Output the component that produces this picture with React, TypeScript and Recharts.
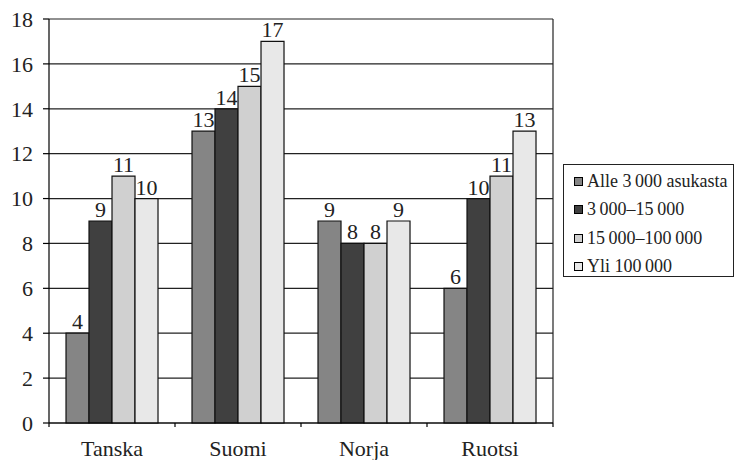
import React from "react";
import { BarChart, Bar, XAxis, YAxis, CartesianGrid, LabelList } from "recharts";

// Countries on the category axis
const countries = ["Tanska", "Suomi", "Norja", "Ruotsi"];

// Size classes of municipalities (one series each)
const seriesNames = ["Alle 3\u2009000 asukasta", "3\u2009000\u201315\u2009000", "15\u2009000\u2013100\u2009000", "Yli 100\u2009000"];
const under3000 = [4, 13, 9, 6];
const from3000to15000 = [9, 14, 8, 10];
const from15000to100000 = [11, 15, 8, 11];
const over100000 = [10, 17, 9, 13];

const yTicks = [0, 2, 4, 6, 8, 10, 12, 14, 16, 18];

const seriesKeys = ["s1", "s2", "s3", "s4"];
const seriesColors = ["#858585", "#404040", "#d0d0d0", "#e8e8e8"];

const data = countries.map((name, i) => ({
  name,
  s1: under3000[i],
  s2: from3000to15000[i],
  s3: from15000to100000[i],
  s4: over100000[i],
}));

const FONT = "'Liberation Serif', serif";
const CHART_W = 734;
const CHART_H = 460;
const MARGIN = { top: 19, right: 181, bottom: 0, left: 0 };
const Y_AXIS_W = 49;
const PLOT_W = CHART_W - MARGIN.left - MARGIN.right - Y_AXIS_W;
const BAND = PLOT_W / countries.length;

// Category label at the band centre, tick marks on the band edges
const CategoryTick = (props: any) => {
  const { x, y, payload, index } = props;
  const half = BAND / 2;
  return (
    <g>
      <line x1={x - half} x2={x - half} y1={y - 8} y2={y - 4} stroke="#000" strokeWidth={1.2} />
      {index === countries.length - 1 && (
        <line x1={x + half} x2={x + half} y1={y - 8} y2={y - 4} stroke="#000" strokeWidth={1.2} />
      )}
      <text x={x} y={y + 25} textAnchor="middle" fontFamily={FONT} fontSize={22} fill="#222">
        {payload.value}
      </text>
    </g>
  );
};

const LegendBox = () => (
  <div
    style={{
      position: "absolute",
      left: 563,
      top: 164,
      border: "1.5px solid #222",
      width: 171,
      height: 113,
      boxSizing: "border-box",
      padding: "2px 0 0 10px",
      fontFamily: FONT,
      fontSize: 18,
      color: "#222",
      background: "#fff",
    }}
  >
    {seriesNames.map((n, i) => (
      <div key={n} style={{ display: "flex", alignItems: "center", height: 28.5, whiteSpace: "nowrap" }}>
        <span
          style={{
            display: "inline-block",
            width: 9,
            height: 9,
            background: seriesColors[i],
            border: "1px solid #000",
            marginRight: 4,
            boxSizing: "border-box",
          }}
        />
        {n}
      </div>
    ))}
  </div>
);

export default function App() {
  return (
    <div style={{ position: "absolute", left: 0, top: 0, width: CHART_W, height: CHART_H, background: "#fff" }}>
      <BarChart
        width={CHART_W}
        height={CHART_H}
        data={data}
        margin={MARGIN}
        barCategoryGap="13.5%"
        barGap={0}
      >
        <CartesianGrid
          stroke="#222"
          strokeWidth={1.2}
          horizontal={true}
          vertical={true}
          verticalCoordinatesGenerator={({ offset }: any) => [offset.left + offset.width]}
        />
        <XAxis
          dataKey="name"
          height={37}
          axisLine={{ stroke: "#000", strokeWidth: 1.2 }}
          tickLine={false}
          tick={<CategoryTick />}
          interval={0}
        />
        <YAxis
          width={Y_AXIS_W}
          domain={[0, 18]}
          ticks={yTicks}
          interval={0}
          axisLine={{ stroke: "#000", strokeWidth: 1.2 }}
          tickLine={{ stroke: "#000", strokeWidth: 1.2 }}
          tickSize={6}
          tickMargin={10}
          tick={{ fontFamily: FONT, fontSize: 22, fill: "#222" }}
        />
        {seriesKeys.map((k, i) => (
          <Bar
            key={k}
            dataKey={k}
            name={seriesNames[i]}
            fill={seriesColors[i]}
            stroke="#111"
            strokeWidth={1.2}
            isAnimationActive={false}
          >
            <LabelList dataKey={k} position="top" offset={4} fontFamily={FONT} fontSize={22} fill="#222" />
          </Bar>
        ))}
      </BarChart>
      <LegendBox />
    </div>
  );
}
